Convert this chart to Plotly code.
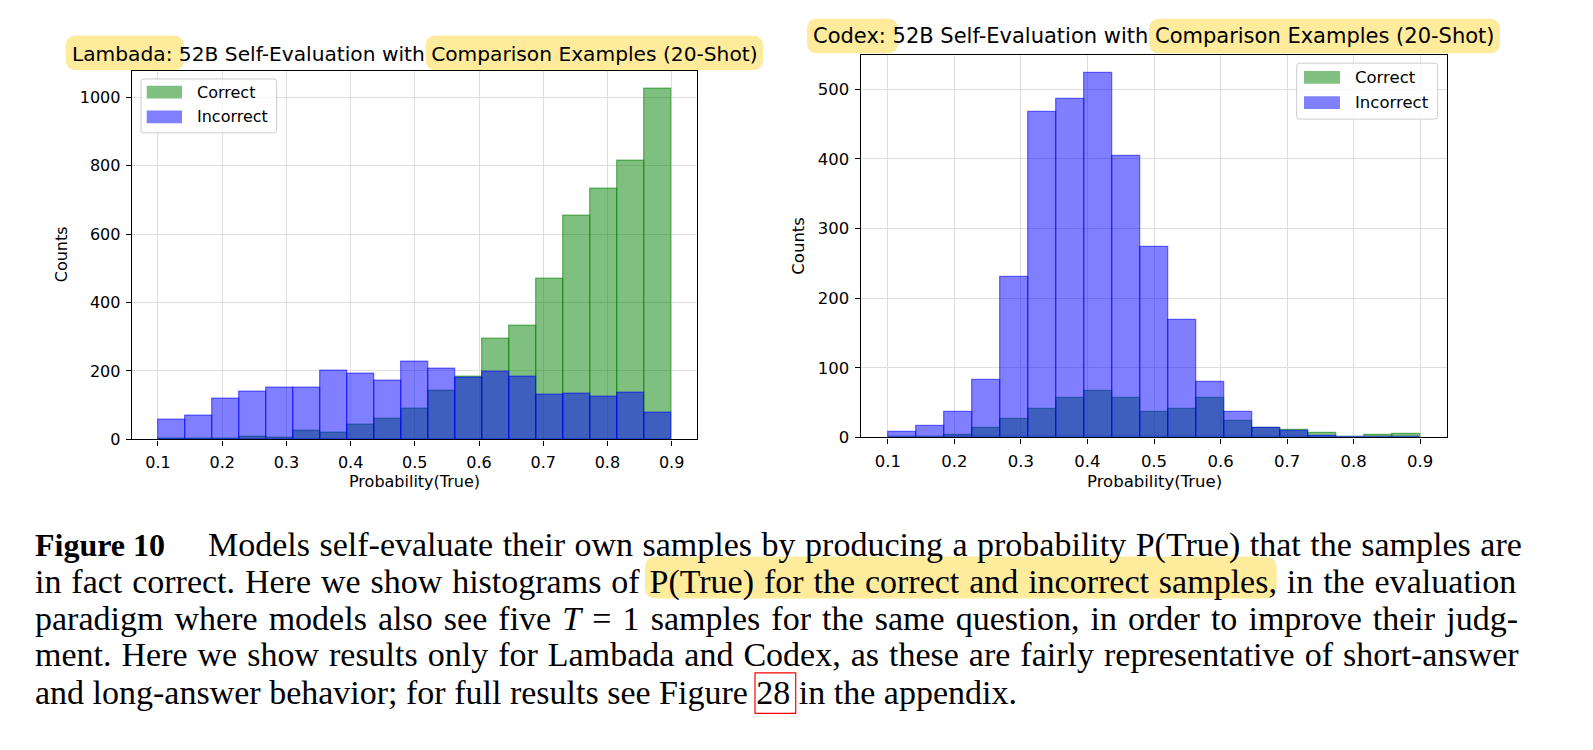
import numpy as np
import plotly.graph_objects as go

# histogram counts per bin (19 equal bins between 0.1 and 0.9)
lambada_correct = [2, 2, 3, 9, 6, 24, 18, 43, 60, 89, 141, 184, 294, 331, 469, 655, 733, 813, 1026]
lambada_incorrect = [58, 70, 118, 139, 150, 150, 201, 193, 170, 227, 207, 179, 199, 184, 130, 133, 125, 136, 77]
codex_correct = [0, 0, 3, 13, 27, 41, 56, 67, 57, 37, 41, 56, 24, 13, 10, 7, 0, 3, 5]
codex_incorrect = [8, 17, 37, 82, 231, 467, 486, 523, 404, 274, 169, 80, 37, 13, 9, 2, 0, 0, 0]

bin_lo, bin_hi, n_bins = 0.1, 0.9, 19
x_ticks = [0.1, 0.2, 0.3, 0.4, 0.5, 0.6, 0.7, 0.8, 0.9]
x_tick_labels = ["0.1", "0.2", "0.3", "0.4", "0.5", "0.6", "0.7", "0.8", "0.9"]
lambada_y_ticks = [0, 200, 400, 600, 800, 1000]
codex_y_ticks = [0, 100, 200, 300, 400, 500]

W, H = 1593, 750
SANS = "DejaVu Sans"
SERIF = "Liberation Serif"
HILITE = "#FEEB9B"
GREEN = "rgba(0,128,0,0.5)"
BLUE = "rgba(0,0,255,0.5)"

edges = np.linspace(bin_lo, bin_hi, n_bins + 1)
centers = (edges[:-1] + edges[1:]) / 2
bin_w = edges[1] - edges[0]


def px(x):
    return x / W


def py(y):
    return 1 - y / H


def rounded_box(x0, y0, x1, y1, r=10):
    # rounded rectangle given in pixels, returned as a paper-coordinate path
    return (f"M {px(x0 + r)},{py(y0)} L {px(x1 - r)},{py(y0)} "
            f"Q {px(x1)},{py(y0)} {px(x1)},{py(y0 + r)} L {px(x1)},{py(y1 - r)} "
            f"Q {px(x1)},{py(y1)} {px(x1 - r)},{py(y1)} L {px(x0 + r)},{py(y1)} "
            f"Q {px(x0)},{py(y1)} {px(x0)},{py(y1 - r)} L {px(x0)},{py(y0 + r)} "
            f"Q {px(x0)},{py(y0)} {px(x0 + r)},{py(y0)} Z")


fig = go.Figure()
for xa, ya, corr, inc in [("x", "y", lambada_correct, lambada_incorrect),
                          ("x2", "y2", codex_correct, codex_incorrect)]:
    fig.add_trace(go.Bar(x=centers, y=corr, width=bin_w, xaxis=xa, yaxis=ya,
                         marker=dict(color=GREEN, line=dict(color=GREEN, width=1.3)),
                         name="Correct", showlegend=False))
    fig.add_trace(go.Bar(x=centers, y=inc, width=bin_w, xaxis=xa, yaxis=ya,
                         marker=dict(color=BLUE, line=dict(color=BLUE, width=1.3)),
                         name="Incorrect", showlegend=False))


def axis_style(fs):
    return dict(showline=True, linecolor="black", linewidth=1.3, mirror=True,
                ticks="outside", ticklen=5.5, tickwidth=1.3, tickcolor="black",
                showgrid=True, gridcolor="#dedede", gridwidth=1, zeroline=False,
                tickfont=dict(family=SANS, size=fs, color="black"))


fig.update_layout(
    width=W, height=H, margin=dict(l=0, r=0, t=0, b=0),
    paper_bgcolor="white", plot_bgcolor="white", barmode="overlay", bargap=0,
    xaxis=dict(domain=[px(132.3), px(697.3)], range=[0.06, 0.94], anchor="y",
               tickvals=x_ticks, ticktext=x_tick_labels, ticklabelstandoff=3, **axis_style(16)),
    yaxis=dict(domain=[py(445.3), py(71.7)], range=[0, max(lambada_correct) * 1.05],
               anchor="x", tickvals=lambada_y_ticks, ticklabelstandoff=2, **axis_style(16)),
    xaxis2=dict(domain=[px(861.3), px(1446.7)], range=[0.06, 0.94], anchor="y2",
                tickvals=x_ticks, ticktext=x_tick_labels, ticklabelstandoff=3, **axis_style(16.5)),
    yaxis2=dict(domain=[py(443.3), py(55.7)], range=[0, max(codex_incorrect) * 1.05],
                anchor="x2", tickvals=codex_y_ticks, ticklabelstandoff=2, **axis_style(16.5)),
)

shapes = []
annotations = []

# highlighted titles
for box in [(65.7, 36, 184, 71), (425.7, 36, 763, 71),
            (807, 19, 898, 54), (1149, 19, 1500, 54)]:
    shapes.append(dict(type="path", xref="paper", yref="paper", path=rounded_box(*box, r=11),
                       fillcolor=HILITE, line=dict(width=0), layer="below"))

for text, cx, cy, fs in [("Lambada: 52B Self-Evaluation with Comparison Examples (20-Shot)", 414.8, 55, 20.2),
                         ("Codex: 52B Self-Evaluation with Comparison Examples (20-Shot)", 1154, 36, 21)]:
    annotations.append(dict(text=text, x=px(cx), y=py(cy), xref="paper", yref="paper",
                            xanchor="center", yanchor="middle", showarrow=False,
                            font=dict(family=SANS, size=fs, color="black")))

# axis titles
for cx, cy, fs in [(414.8, 476, 16), (1154, 476, 16.5)]:
    annotations.append(dict(text="Probability(True)", x=px(cx), y=py(cy), xref="paper", yref="paper",
                            xanchor="center", yanchor="top", showarrow=False,
                            font=dict(family=SANS, size=fs, color="black")))
for cx, cy, fs in [(61.7, 258, 16), (799, 249, 16.5)]:
    annotations.append(dict(text="Counts", x=px(cx), y=py(cy), xref="paper", yref="paper",
                            xanchor="center", yanchor="middle", showarrow=False, textangle=-90,
                            font=dict(family=SANS, size=fs, color="black")))

# legends drawn by hand to get matplotlib-like patches
legend_specs = [
    (141, 80, 276.7, 134.7, 146.7, 182, 93.3, 118.5, 195, 16),
    (1296.7, 64, 1437.7, 120.7, 1304, 1340, 78.5, 104, 1353.3, 16.5),
]
for bx0, by0, bx1, by1, sx0, sx1, yc, yi, tx, fs in legend_specs:
    shapes.append(dict(type="path", xref="paper", yref="paper", path=rounded_box(bx0, by0, bx1, by1, r=3),
                       fillcolor="rgba(255,255,255,0.8)", line=dict(color="#cccccc", width=1), layer="above"))
    for yy, col, lab in [(yc, "#80c080", "Correct"), (yi, "#8080ff", "Incorrect")]:
        shapes.append(dict(type="rect", xref="paper", yref="paper", x0=px(sx0), x1=px(sx1),
                           y0=py(yy - 6.5), y1=py(yy + 6.5), fillcolor=col, line=dict(width=0),
                           layer="above"))
        annotations.append(dict(text=lab, x=px(tx), y=py(yy), xref="paper", yref="paper",
                                xanchor="left", yanchor="middle", showarrow=False,
                                font=dict(family=SANS, size=fs, color="black")))

# caption
shapes.append(dict(type="path", xref="paper", yref="paper", path=rounded_box(645, 564, 1276.7, 606.7, r=12),
                   fillcolor=HILITE, line=dict(width=0), layer="below"))
shapes.append(dict(type="rect", xref="paper", yref="paper", x0=px(755), x1=px(795.7),
                   y0=py(682), y1=py(723), line=dict(color="red", width=1.2)))

# (left edge px, extra word spacing px, text) -- spacing imitates the justified paragraph
caption_lines = [
    (205.7, 1.0, "Models self-evaluate their own samples by producing a probability P(True) that the samples are"),
    (32.7, 1.4, "in fact correct. Here we show histograms of P(True) for the correct and incorrect samples, in the evaluation"),
    (32.7, 2.6, "paradigm where models also see five <i>T</i> = 1 samples for the same question, in order to improve their judg-"),
    (32.7, 1.5, "ment. Here we show results only for Lambada and Codex, as these are fairly representative of short-answer"),
    (32.7, 0, "and long-answer behavior; for full results see Figure 28 in the appendix."),
]
baselines = [558, 595, 632, 669, 707]
CAP = 34
annotations.append(dict(text="<b>Figure 10</b>", x=px(32.7), y=py(baselines[0] - 0.33 * CAP + 6),
                        xref="paper", yref="paper", xanchor="left", yanchor="middle", showarrow=False,
                        font=dict(family=SERIF, size=32, color="black")))
for (x0, ws, line), base in zip(caption_lines, baselines):
    annotations.append(dict(text=f"<span style='word-spacing:{ws}px'>{line}</span>",
                            x=px(x0), y=py(base - 0.33 * CAP + 6), xref="paper", yref="paper",
                            xanchor="left", yanchor="middle", showarrow=False,
                            font=dict(family=SERIF, size=CAP, color="black")))

fig.update_layout(shapes=shapes, annotations=annotations)

fig.write_html("out.html", config={"displayModeBar": False},
               post_script="document.body.style.margin='0';")
